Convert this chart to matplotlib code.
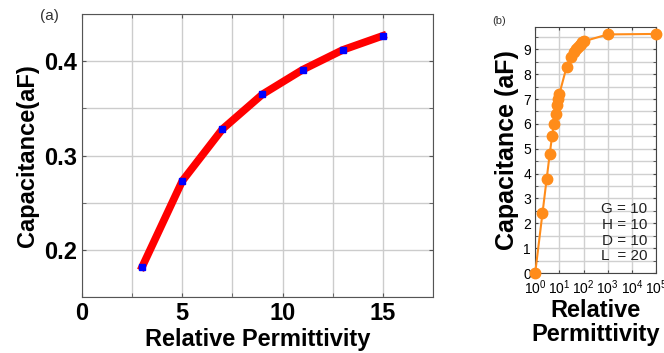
#Capacitance vs relative permittivity, two panels

import numpy as np
import matplotlib
matplotlib.use("Agg")
import matplotlib.pyplot as plt
from matplotlib.ticker import MultipleLocator, LogLocator, NullFormatter

plt.rcParams['font.family'] = ['Liberation Sans', 'DejaVu Sans']

# panel (a) data
eps_a = [3, 5, 7, 9, 11, 13, 15]
cap_a = [0.182, 0.273, 0.328, 0.365, 0.391, 0.412, 0.427]

# panel (b) data
eps_b = [1, 2, 3, 4, 5, 6, 7, 8, 9, 10, 20, 30, 40, 50, 60, 70, 80, 90, 100, 1000, 100000]
cap_b = [0.0, 2.4, 3.8, 4.8, 5.5, 6.0, 6.4, 6.75, 7.0, 7.2, 8.3, 8.7, 8.9, 9.0, 9.1, 9.17, 9.23, 9.28, 9.32, 9.6, 9.62]

params_b = ["G = 10", "H = 10", "D = 10", "L  = 20"]

fig = plt.figure(figsize=(6.64, 3.53), dpi=100)

# ---- (a)
ax1 = fig.add_axes([0.1235, 0.1586, 0.5285, 0.8014])
ax1.plot(eps_a, cap_a, color="red", lw=5.5, zorder=3)
ax1.plot(eps_a, cap_a, "s", color="blue", ms=4.8, zorder=4, lw=0)
ax1.set_xlim(0, 17.5)
ax1.set_ylim(0.15, 0.45)
ax1.set_xticks([0, 5, 10, 15])
ax1.set_yticks([0.2, 0.3, 0.4])
ax1.set_yticklabels(["0.2", "0.3", "0.4"])
ax1.xaxis.set_minor_locator(MultipleLocator(2.5))
ax1.yaxis.set_minor_locator(MultipleLocator(0.05))
ax1.grid(True, which="both", color="#cccccc", lw=1)
ax1.tick_params(which="both", direction="in", top=True, right=True, length=3,
                color="#555555", labelsize=17)
for lab in ax1.get_xticklabels() + ax1.get_yticklabels():
    lab.set_fontweight("bold")
for s in ax1.spines.values():
    s.set_color("#555555")
ax1.set_xlabel("Relative Permittivity", fontsize=17, fontweight="bold", labelpad=2)
ax1.set_ylabel("Capacitance(aF)", fontsize=17, fontweight="bold", labelpad=4)
fig.text(0.06, 0.955, "(a)", fontsize=11, ha="left", va="center", color="#333333")

# ---- (b)
ax2 = fig.add_axes([0.806, 0.2266, 0.182, 0.697])
orange = "#FF8C1A"
ax2.plot(eps_b, cap_b, "o-", color=orange, ms=7.5, lw=1.5, clip_on=False, zorder=3)
ax2.set_xscale("log")
ax2.set_xlim(1, 1e5)
ax2.set_ylim(0, 9.9)
ax2.set_xticks([1, 10, 100, 1000, 10000, 100000])
ax2.xaxis.set_minor_locator(LogLocator(base=10, subs=np.arange(2, 10)))
ax2.xaxis.set_minor_formatter(NullFormatter())
ax2.yaxis.set_major_locator(MultipleLocator(1))
ax2.yaxis.set_minor_locator(MultipleLocator(0.5))
ax2.grid(True, which="major", axis="x", color="#d0d0d0", lw=1)
ax2.grid(True, which="both", axis="y", color="#d0d0d0", lw=1)
ax2.tick_params(which="both", direction="in", top=True, right=True, length=2.5,
                color="#444444", labelsize=10)
ax2.tick_params(axis="x", pad=4)
ax2.tick_params(axis="y", pad=3)
for s in ax2.spines.values():
    s.set_color("#444444")
ax2.set_xlabel("Relative\nPermittivity", fontsize=17, fontweight="bold", labelpad=1,
               linespacing=1.1)
ax2.set_ylabel("Capacitance (aF)", fontsize=18, fontweight="bold", labelpad=3)
ax2.text(0.93, 0.04, "\n".join(params_b), transform=ax2.transAxes, ha="right",
         va="bottom", fontsize=11, linespacing=1.15, color="#222222")
fig.text(0.742, 0.94, "(b)", fontsize=8, ha="left", va="center", color="#333333")

fig.savefig("out.png", dpi=100)
